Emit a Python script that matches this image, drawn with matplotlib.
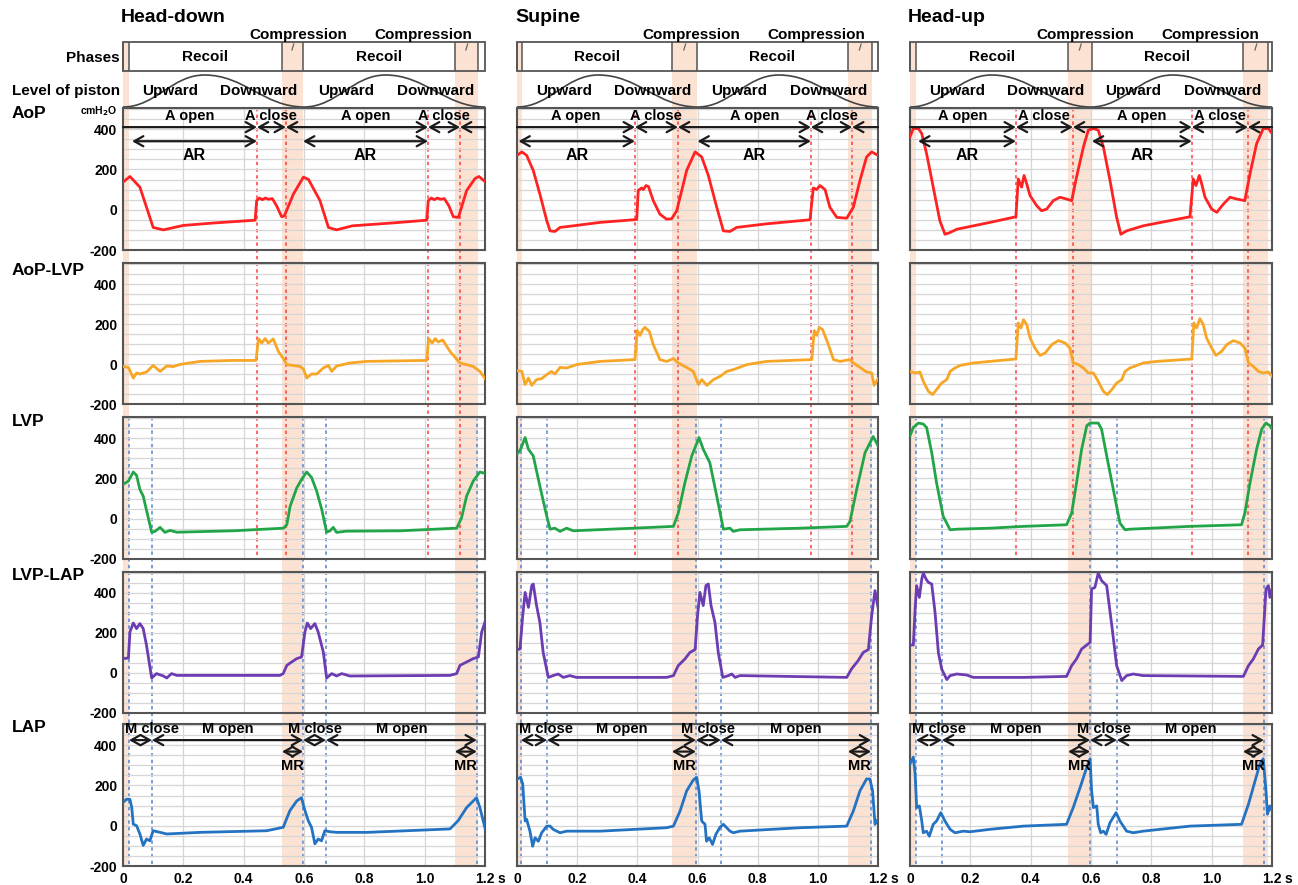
import numpy as np
import matplotlib
matplotlib.use("Agg")
import matplotlib.pyplot as plt
from matplotlib.patches import Rectangle, PathPatch
from matplotlib.path import Path

plt.rcParams["font.family"] = ["Liberation Sans", "DejaVu Sans"]
plt.rcParams["font.weight"] = "bold"

# ---------------- data: time (s) / pressure (cmH2O) ----------------
titles = ["Head-down", "Supine", "Head-up"]
row_names = ["AoP", "AoP-LVP", "LVP", "LVP-LAP", "LAP"]
x_ticks = [0, 0.2, 0.4, 0.6, 0.8, 1.0, 1.2]
x_tick_labels = ["0", "0.2", "0.4", "0.6", "0.8", "1.0", "1.2"]
y_ticks = [-200, 0, 200, 400]
y_tick_labels = ["-200", "0", "200", "400"]

# compression bands, aortic valve events (red dashes), mitral events (blue dashes)
hd_bands = [(0, 0.02), (0.527, 0.597), (1.10, 1.177)]
su_bands = [(0, 0.017), (0.515, 0.598), (1.10, 1.18)]
hu_bands = [(0, 0.02), (0.524, 0.603), (1.104, 1.187)]
hd_aortic = [0.444, 0.54, 1.011, 1.117]
su_aortic = [0.392, 0.535, 0.977, 1.114]
hu_aortic = [0.351, 0.54, 0.934, 1.12]
hd_mitral = [0.02, 0.096, 0.597, 0.673, 1.173]
su_mitral = [0.013, 0.10, 0.595, 0.678, 1.177]
hu_mitral = [0.02, 0.106, 0.597, 0.686, 1.173]
hd_ar_start = [0.03, 0.597]
su_ar_start = [0.005, 0.60]
hu_ar_start = [0.027, 0.603]

# piston level (0 = low, 1 = high) at its turning points
piston_t = [0, 0.27, 0.60, 0.87, 1.2]
piston_level = [0, 1, 0, 1, 0]

# Head-down
hd_aop_t = [0, 0.023, 0.056, 0.078, 0.100, 0.134, 0.20, 0.30, 0.438, 0.443, 0.452, 0.462, 0.472, 0.482,
            0.495, 0.509, 0.526, 0.535, 0.565, 0.598, 0.615, 0.653, 0.681, 0.708, 0.76, 0.90, 1.007, 1.012,
            1.022, 1.032, 1.042, 1.052, 1.065, 1.080, 1.095, 1.112, 1.139, 1.167, 1.180, 1.20]
hd_aop = [137, 165, 112, 12, -88, -100, -78, -66, -52, 45, 58, 50, 58, 52,
          55, 20, -35, -30, 78, 162, 150, 45, -88, -100, -80, -65, -52, 45,
          58, 50, 58, 52, 55, 20, -35, -38, 95, 155, 165, 140]
hd_dif_t = [0, 0.018, 0.034, 0.045, 0.056, 0.078, 0.10, 0.123, 0.145, 0.167, 0.189, 0.255, 0.366, 0.441,
            0.449, 0.460, 0.471, 0.482, 0.498, 0.515, 0.531, 0.543, 0.587, 0.598, 0.609, 0.625, 0.642,
            0.664, 0.681, 0.692, 0.708, 0.752, 0.808, 1.007, 1.013, 1.025, 1.035, 1.045, 1.060, 1.084,
            1.117, 1.161, 1.183, 1.20]
hd_dif = [-12, -17, -70, -45, -50, -40, -7, -37, -10, -13, -2, 13, 18, 18,
          127, 105, 127, 105, 125, 63, 28, -3, -12, -25, -70, -50, -50,
          -20, -7, -37, -10, 5, 13, 18, 127, 105, 127, 110, 120, 63,
          5, -12, -37, -72]
hd_lvp_t = [0, 0.018, 0.034, 0.045, 0.056, 0.067, 0.095, 0.106, 0.123, 0.139, 0.156, 0.178, 0.366, 0.532,
            0.543, 0.554, 0.576, 0.592, 0.609, 0.625, 0.642, 0.659, 0.675, 0.686, 0.697, 0.708, 0.74, 0.92,
            1.106, 1.122, 1.139, 1.161, 1.183, 1.20]
hd_lvp = [170, 187, 232, 215, 145, 112, -67, -63, -43, -68, -58, -67, -60, -47,
          -30, 62, 153, 195, 232, 205, 137, 45, -67, -60, -43, -68, -62, -60,
          -47, 3, 112, 187, 232, 225]
hd_tvp_t = [0, 0.018, 0.023, 0.034, 0.045, 0.056, 0.067, 0.078, 0.095, 0.111, 0.134, 0.145, 0.161, 0.178,
            0.25, 0.52, 0.531, 0.543, 0.559, 0.576, 0.592, 0.603, 0.611, 0.622, 0.636, 0.647, 0.664, 0.675,
            0.692, 0.708, 0.725, 0.752, 1.084, 1.106, 1.117, 1.139, 1.161, 1.178, 1.189, 1.20]
hd_tvp = [72, 75, 205, 250, 222, 247, 222, 138, -25, -3, -15, -25, -3, -12,
          -12, -12, -3, 38, 55, 72, 80, 205, 250, 222, 247, 205, 105, -25,
          -3, -15, -3, -15, -12, -3, 38, 55, 72, 80, 205, 255]
hd_lap_t = [0, 0.011, 0.023, 0.029, 0.034, 0.045, 0.056, 0.067, 0.078, 0.089, 0.10, 0.123, 0.145, 0.255,
            0.476, 0.531, 0.553, 0.576, 0.592, 0.600, 0.614, 0.625, 0.636, 0.647, 0.658, 0.669, 0.686,
            0.708, 0.81, 1.084, 1.111, 1.139, 1.172, 1.183, 1.20]
hd_lap = [115, 131, 131, 90, 8, 0, -41, -98, -66, -75, -25, -33, -41, -33,
          -25, -8, 74, 123, 139, 90, 25, -8, -90, -66, -75, -25, -30,
          -33, -33, -16, 25, 90, 139, 90, -12]

# Supine
su_aop_t = [0, 0.016, 0.032, 0.054, 0.076, 0.099, 0.11, 0.126, 0.143, 0.187, 0.276, 0.387, 0.398, 0.403,
            0.414, 0.42, 0.429, 0.437, 0.453, 0.475, 0.497, 0.514, 0.531, 0.564, 0.592, 0.614, 0.636, 0.664,
            0.686, 0.708, 0.73, 0.83, 0.974, 0.985, 0.996, 1.007, 1.024, 1.04, 1.063, 1.096, 1.118, 1.14,
            1.162, 1.179, 1.2]
su_aop = [270, 287, 270, 195, 78, -55, -105, -108, -88, -80, -63, -50, -48, 95,
          108, 100, 120, 115, 45, -22, -47, -45, -5, 195, 287, 262, 170, 12,
          -105, -108, -88, -70, -50, 108, 100, 120, 100, 12, -38, -42, 12, 145,
          262, 287, 270]
su_dif_t = [0, 0.016, 0.027, 0.038, 0.049, 0.065, 0.082, 0.099, 0.115, 0.126, 0.143, 0.165, 0.198, 0.276,
            0.392, 0.40, 0.409, 0.418, 0.425, 0.44, 0.453, 0.475, 0.497, 0.52, 0.536, 0.564, 0.586, 0.603,
            0.614, 0.631, 0.653, 0.675, 0.697, 0.719, 0.764, 0.83, 0.98, 0.988, 0.996, 1.005, 1.016, 1.035,
            1.052, 1.074, 1.107, 1.118, 1.14, 1.162, 1.179, 1.187, 1.2]
su_dif = [-33, -37, -103, -70, -107, -78, -73, -53, -37, -50, -17, -20, -3, 13,
          22, 167, 143, 172, 183, 163, 97, 22, 13, 27, 5, -17, -37, -103,
          -78, -107, -78, -62, -37, -28, -3, 13, 22, 167, 143, 183, 172, 97,
          22, 13, 22, 5, -17, -40, -45, -107, -73]
su_lvp_t = [0, 0.012, 0.027, 0.038, 0.054, 0.076, 0.099, 0.11, 0.126, 0.143, 0.165, 0.187, 0.387, 0.52,
            0.536, 0.558, 0.581, 0.605, 0.619, 0.641, 0.664, 0.686, 0.708, 0.719, 0.741, 0.941, 1.096, 1.107,
            1.129, 1.157, 1.184, 1.2]
su_lvp = [320, 345, 403, 345, 312, 162, 12, -52, -47, -63, -47, -60, -47, -38,
          28, 178, 312, 403, 345, 278, 112, -52, -47, -63, -55, -47, -38, -13,
          145, 328, 408, 362]
su_tvp_t = [0, 0.01, 0.019, 0.027, 0.038, 0.049, 0.054, 0.065, 0.076, 0.087, 0.104, 0.12, 0.137, 0.154,
            0.176, 0.198, 0.497, 0.52, 0.536, 0.558, 0.575, 0.592, 0.60, 0.608, 0.619, 0.628, 0.636, 0.645,
            0.658, 0.669, 0.684, 0.703, 0.714, 0.725, 0.741, 1.096, 1.112, 1.134, 1.151, 1.168, 1.179, 1.19,
            1.2]
su_tvp = [117, 120, 287, 403, 328, 437, 445, 337, 253, 103, -22, -13, -5, -22,
          -13, -22, -22, -13, 37, 70, 103, 117, 287, 403, 337, 437, 445, 337,
          253, 103, -22, -13, -5, -22, -13, -22, 20, 62, 103, 117, 287, 412,
          328]
su_lap_t = [0, 0.012, 0.019, 0.027, 0.032, 0.043, 0.052, 0.06, 0.071, 0.082, 0.099, 0.11, 0.12, 0.143,
            0.165, 0.276, 0.497, 0.52, 0.542, 0.564, 0.586, 0.597, 0.605, 0.614, 0.625, 0.63, 0.639, 0.65,
            0.661, 0.675, 0.686, 0.708, 0.719, 0.741, 0.941, 1.096, 1.118, 1.14, 1.162, 1.173, 1.182, 1.19,
            1.2]
su_lap = [232, 240, 207, 23, 32, -27, -102, -60, -77, -35, -2, -2, -18, -35,
          -27, -27, -10, -2, 73, 173, 227, 240, 173, 23, 7, -77, -60, -93,
          -43, -7, 7, -27, -35, -27, -10, -2, 73, 173, 232, 232, 173, 7,
          32]

# Head-up
hu_aop_t = [0, 0.011, 0.028, 0.039, 0.055, 0.077, 0.099, 0.116, 0.133, 0.155, 0.21, 0.265, 0.351, 0.359,
            0.37, 0.378, 0.387, 0.398, 0.42, 0.436, 0.453, 0.475, 0.497, 0.519, 0.536, 0.552, 0.575, 0.591,
            0.608, 0.624, 0.641, 0.663, 0.685, 0.699, 0.718, 0.773, 0.928, 0.939, 0.948, 0.959, 0.967, 0.978,
            1.0, 1.017, 1.039, 1.061, 1.083, 1.11, 1.127, 1.149, 1.171, 1.188, 1.2]
hu_aop = [362, 403, 403, 378, 278, 112, -55, -122, -113, -97, -80, -63, -35, 153,
          112, 170, 128, 70, 20, -5, 3, 45, 62, 53, 45, 162, 312, 395,
          403, 395, 312, 145, -38, -122, -105, -80, -35, 153, 120, 170, 128, 62,
          3, -13, 28, 62, 53, 45, 178, 328, 403, 403, 378]
hu_dif_t = [0, 0.017, 0.033, 0.044, 0.061, 0.075, 0.088, 0.105, 0.122, 0.133, 0.149, 0.166, 0.21, 0.265,
            0.351, 0.359, 0.368, 0.376, 0.387, 0.398, 0.414, 0.431, 0.448, 0.47, 0.492, 0.514, 0.53, 0.541,
            0.558, 0.575, 0.591, 0.608, 0.624, 0.641, 0.654, 0.669, 0.685, 0.702, 0.713, 0.729, 0.773, 0.818,
            0.934, 0.941, 0.95, 0.961, 0.972, 0.983, 1.0, 1.014, 1.033, 1.05, 1.072, 1.094, 1.11, 1.122,
            1.138, 1.155, 1.171, 1.188, 1.2]
hu_dif = [-37, -45, -40, -87, -137, -153, -128, -95, -78, -37, -20, -7, 5, 13,
          25, 205, 180, 222, 197, 130, 80, 43, 55, 97, 117, 105, 80, 5,
          -3, -20, -45, -45, -87, -137, -153, -128, -95, -78, -37, -20, 5, 13,
          25, 205, 180, 227, 197, 130, 80, 43, 63, 97, 117, 105, 80, 5,
          -12, -37, -45, -40, -62]
hu_lvp_t = [0, 0.011, 0.028, 0.044, 0.055, 0.072, 0.088, 0.11, 0.133, 0.155, 0.265, 0.376, 0.519, 0.536,
            0.552, 0.569, 0.586, 0.597, 0.624, 0.635, 0.652, 0.674, 0.696, 0.713, 0.729, 0.928, 1.099, 1.11,
            1.127, 1.149, 1.166, 1.18, 1.193, 1.2]
hu_lvp = [412, 453, 475, 470, 453, 328, 178, 12, -55, -52, -47, -38, -30, 28,
          178, 345, 462, 475, 475, 445, 312, 145, -22, -55, -52, -38, -30, 28,
          178, 345, 445, 475, 462, 445]
hu_tvp_t = [0, 0.011, 0.017, 0.022, 0.031, 0.039, 0.044, 0.053, 0.061, 0.072, 0.083, 0.094, 0.105, 0.122,
            0.133, 0.155, 0.188, 0.21, 0.376, 0.519, 0.536, 0.552, 0.569, 0.586, 0.597, 0.602, 0.613, 0.624,
            0.635, 0.652, 0.669, 0.685, 0.702, 0.718, 0.74, 0.773, 1.105, 1.122, 1.138, 1.155, 1.169, 1.18,
            1.188, 1.193, 1.2]
hu_tvp = [140, 140, 320, 437, 378, 470, 500, 470, 453, 445, 303, 103, 20, -33,
          -13, -5, -10, -22, -22, -17, 37, 70, 120, 140, 153, 420, 428, 500,
          462, 437, 237, 37, -38, -13, -5, -13, -17, 37, 70, 120, 140, 420,
          437, 378, 420]
hu_lap_t = [0, 0.011, 0.017, 0.022, 0.031, 0.039, 0.044, 0.055, 0.064, 0.077, 0.088, 0.102, 0.116, 0.133,
            0.149, 0.177, 0.199, 0.265, 0.376, 0.519, 0.541, 0.564, 0.586, 0.597, 0.602, 0.608, 0.619, 0.624,
            0.632, 0.641, 0.65, 0.663, 0.683, 0.696, 0.718, 0.74, 0.773, 0.928, 1.099, 1.122, 1.144, 1.16,
            1.171, 1.18, 1.185, 1.193, 1.2]
hu_lap = [307, 340, 257, 90, 98, 23, -35, -27, -52, 7, 23, 65, 23, -18,
          -35, -27, -30, -18, -2, 7, 90, 190, 290, 332, 173, 90, 98, 7,
          -35, -27, -43, 15, 65, 23, -27, -35, -27, -2, 7, 107, 223, 307,
          332, 173, 57, 98, 73]

columns = [
    dict(bands=hd_bands, aortic=hd_aortic, mitral=hd_mitral, ar=hd_ar_start,
         curves=[(hd_aop_t, hd_aop), (hd_dif_t, hd_dif), (hd_lvp_t, hd_lvp),
                 (hd_tvp_t, hd_tvp), (hd_lap_t, hd_lap)]),
    dict(bands=su_bands, aortic=su_aortic, mitral=su_mitral, ar=su_ar_start,
         curves=[(su_aop_t, su_aop), (su_dif_t, su_dif), (su_lvp_t, su_lvp),
                 (su_tvp_t, su_tvp), (su_lap_t, su_lap)]),
    dict(bands=hu_bands, aortic=hu_aortic, mitral=hu_mitral, ar=hu_ar_start,
         curves=[(hu_aop_t, hu_aop), (hu_dif_t, hu_dif), (hu_lvp_t, hu_lvp),
                 (hu_tvp_t, hu_tvp), (hu_lap_t, hu_lap)]),
]

# ---------------- layout / style ----------------
W, H = 1298, 885
col_x = [(123, 485), (517, 878), (910, 1272)]
row_y = [(108, 250), (263, 404), (417, 559), (572, 713), (724, 866)]
line_colors = ["#ff2222", "#f7a626", "#22a548", "#6b3cb2", "#2472c2"]
band_color = "#fbe2d2"
frame_color = "#555555"
ink = "#1a1a1a"

fig = plt.figure(figsize=(W / 100, H / 100), dpi=100)


def fx(px):
    return px / W


def fy(py):
    return 1 - py / H


def arrow(ax, xa, xb, y, style):
    ax.annotate("", xy=(xb, y), xytext=(xa, y), annotation_clip=False,
                arrowprops=dict(arrowstyle=style + ",head_length=0.5,head_width=0.28",
                                lw=1.6, color=ink, shrinkA=0, shrinkB=0, mutation_scale=13))


for c, col in enumerate(columns):
    x0, x1 = col_x[c]
    # background layer: x in seconds, y in pixels
    bg = fig.add_axes([fx(x0), 0, fx(x1) - fx(x0), 1], zorder=0)
    bg.set_xlim(0, 1.2)
    bg.set_ylim(H, 0)
    bg.axis("off")

    for b0, b1 in col["bands"]:
        bg.add_patch(Rectangle((b0, 42), b1 - b0, 824, color=band_color, lw=0, zorder=0))

    # phases bar
    bg.add_patch(Rectangle((0, 42), 1.2, 29, fill=False, ec=frame_color, lw=1.3, clip_on=False, zorder=2))
    for b0, b1 in col["bands"]:
        bg.vlines([b0, b1], 42, 71, colors=frame_color, lw=1.1, zorder=2, clip_on=False)
    bands = col["bands"]
    for r0, r1 in [(bands[0][1], bands[1][0]), (bands[1][1], bands[2][0])]:
        bg.text((r0 + r1) / 2, 57, "Recoil", ha="center", va="center", fontsize=11, weight="bold")
    for k, cx in enumerate([0.58, 0.995]):
        bm = (bands[k + 1][0] + bands[k + 1][1]) / 2
        bg.text(cx, 35, "Compression", ha="center", va="center", fontsize=11, weight="bold")
        bg.plot([bm + 0.004, bm - 0.002], [44, 50], color="#666666", lw=0.9)

    # level of piston
    verts = [(piston_t[0], 107 - 32 * piston_level[0])]
    codes = [Path.MOVETO]
    for i in range(1, len(piston_t)):
        ta, tb = piston_t[i - 1], piston_t[i]
        ya, yb = 107 - 32 * piston_level[i - 1], 107 - 32 * piston_level[i]
        verts += [(ta + 0.4 * (tb - ta), ya), (tb - 0.4 * (tb - ta), yb), (tb, yb)]
        codes += [Path.CURVE4] * 3
    bg.add_patch(PathPatch(Path(verts, codes), fill=False, ec="#444444", lw=1.2))
    for tx, word in zip([0.155, 0.45, 0.74, 1.035], ["Upward", "Downward", "Upward", "Downward"]):
        bg.text(tx, 91, word, ha="center", va="center", fontsize=11, weight="bold")

    # valve timing lines
    bg.vlines(col["aortic"], row_y[0][0], row_y[2][1], colors="#ff3b3b", lw=1.1,
              linestyles=(0, (2.2, 2.2)), zorder=1)
    bg.vlines(col["mitral"], row_y[2][0], row_y[4][1], colors="#4f82d2", lw=1.1,
              linestyles=(0, (2.2, 2.2)), zorder=1)

    fig.text(fx(x0 - 2), fy(18), titles[c], fontsize=14, weight="bold", va="center")

    for r, (t, v) in enumerate(col["curves"]):
        y0, y1 = row_y[r]
        ax = fig.add_axes([fx(x0), fy(y1), fx(x1) - fx(x0), (y1 - y0) / H], zorder=1)
        ax.set_facecolor("none")
        ax.set_xlim(0, 1.2)
        ax.set_ylim(-200, 505)
        ax.set_xticks(x_ticks)
        ax.set_yticks(y_ticks)
        ax.set_yticks(np.arange(-150, 501, 50), minor=True)
        ax.grid(True, which="both", axis="y", color="#d6d6d6", lw=0.9)
        ax.grid(True, which="major", axis="x", color="#d6d6d6", lw=0.9)
        ax.set_axisbelow(True)
        ax.tick_params(which="both", length=0, pad=4)
        for sp in ax.spines.values():
            sp.set_color(frame_color)
            sp.set_linewidth(1.5)
        if c == 0:
            ax.set_yticklabels(y_tick_labels, fontsize=10, weight="bold")
        else:
            ax.set_yticklabels([])
        if r == 4:
            ax.set_xticklabels(x_tick_labels, fontsize=10, weight="bold")
            ax.annotate("s", xy=(1.2, 0), xycoords=("data", "axes fraction"), xytext=(9, -4),
                        textcoords="offset points", ha="left", va="top", fontsize=10, weight="bold")
        else:
            ax.set_xticklabels([])

        ax.plot(t, v, color=line_colors[r], lw=2.0, solid_joinstyle="round", zorder=3)

        if r == 0:
            a = col["aortic"]
            ar = col["ar"]
            ya, yr = 410, 340
            arrow(ax, 0, a[0], ya, "->")
            arrow(ax, a[0], a[1], ya, "<->")
            arrow(ax, a[1], a[2], ya, "<->")
            arrow(ax, a[2], a[3], ya, "<->")
            arrow(ax, 1.2, a[3], ya, "->")
            arrow(ax, ar[0], a[0], yr, "<->")
            arrow(ax, ar[1], a[2], yr, "<->")
            ax.text(a[0] / 2, 465, "A open", ha="center", va="center", fontsize=10.5, weight="bold")
            ax.text((ar[1] + a[2]) / 2, 465, "A open", ha="center", va="center", fontsize=10.5, weight="bold")
            ax.text((a[0] + a[1]) / 2, 465, "A close", ha="center", va="center", fontsize=10.5, weight="bold")
            ax.text((a[2] + a[3]) / 2, 465, "A close", ha="center", va="center", fontsize=10.5, weight="bold")
            ax.text((ar[0] + a[0]) / 2, 270, "AR", ha="center", va="center", fontsize=11.5, weight="bold")
            ax.text((ar[1] + a[2]) / 2, 270, "AR", ha="center", va="center", fontsize=11.5, weight="bold")
        if r == 4:
            m = col["mitral"]
            ym, ymr = 425, 368
            arrow(ax, m[0], m[1], ym, "<->")
            arrow(ax, m[1], m[2], ym, "<->")
            arrow(ax, m[2], m[3], ym, "<->")
            arrow(ax, m[3], m[4], ym, "<->")
            ax.text(0.006, 482, "M close", ha="left", va="center", fontsize=10.5, weight="bold")
            ax.text((m[2] + m[3]) / 2, 482, "M close", ha="center", va="center", fontsize=10.5, weight="bold")
            ax.text((m[1] + m[2]) / 2, 482, "M open", ha="center", va="center", fontsize=10.5, weight="bold")
            ax.text((m[3] + m[4]) / 2, 482, "M open", ha="center", va="center", fontsize=10.5, weight="bold")
            for k, end in [(1, m[2]), (2, m[4])]:
                arrow(ax, bands[k][0], end, ymr, "<->")
                ax.text((bands[k][0] + end) / 2, 296, "MR", ha="center", va="center", fontsize=10.5,
                        weight="bold")

# left-hand labels
label_y = [113, 270, 421, 575, 728]
for name, yy in zip(row_names, label_y):
    fig.text(fx(12), fy(yy), name, fontsize=12.5, weight="bold", va="center")
fig.text(fx(120), fy(58), "Phases", fontsize=11, weight="bold", va="center", ha="right")
fig.text(fx(120), fy(91), "Level of piston", fontsize=11, weight="bold", va="center", ha="right")
fig.text(fx(118), fy(111), r"cmH$_\mathbf{2}$O", fontsize=7.5, weight="bold", va="center", ha="right")

fig.savefig("out.png", dpi=100)
